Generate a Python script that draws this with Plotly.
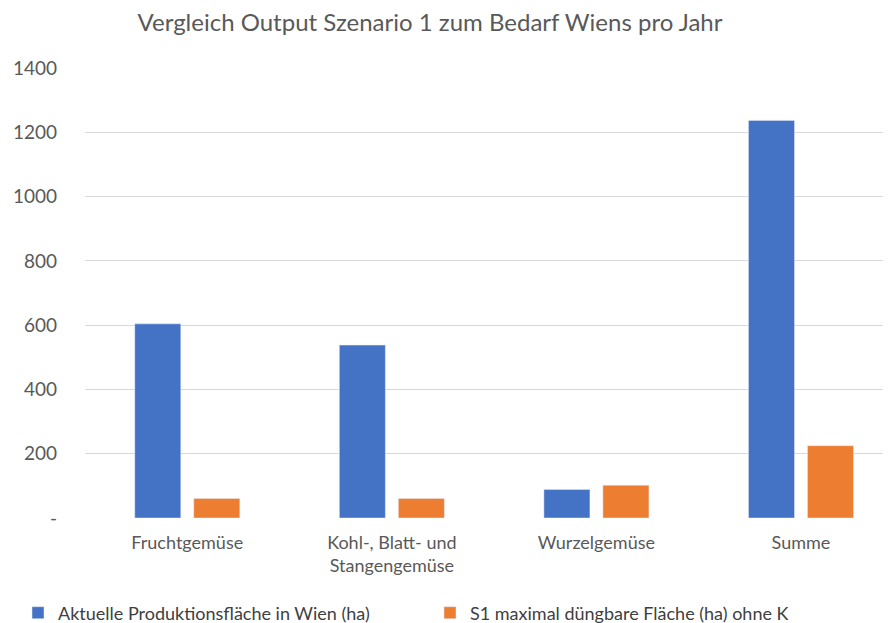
import plotly.graph_objects as go

categories = ["Fruchtgemüse", "Kohl-, Blatt- und Stangengemüse", "Wurzelgemüse", "Summe"]
category_labels = ["Fruchtgemüse", "Kohl-, Blatt- und<br>Stangengemüse", "Wurzelgemüse", "Summe"]
aktuelle_flaeche = [604, 538, 89, 1237]
s1_max_flaeche = [61, 61, 102, 225]
y_tickvals = [0, 200, 400, 600, 800, 1000, 1200, 1400]
y_ticktext = ["-", "200", "400", "600", "800", "1000", "1200", "1400"]

FONT = "Lato"
TXT = "#595959"

# page body adds an 8px offset; figure is sized to fill the rest of the window
W, H = 883, 615
ML, MR, MT, MB = 77, 0, 60, 105
PW = W - ML - MR
PH = H - MT - MB

fig = go.Figure()
fig.add_trace(go.Bar(x=categories, y=aktuelle_flaeche,
                     name="Aktuelle Produktionsfläche in Wien (ha)",
                     marker_color="#4472C4"))
fig.add_trace(go.Bar(x=categories, y=s1_max_flaeche,
                     name="S1 maximal düngbare Fläche (ha) ohne K",
                     marker_color="#ED7D31"))

fig.update_layout(
    width=W, height=H,
    margin=dict(l=ML, r=MR, t=MT, b=MB, autoexpand=False),
    paper_bgcolor="white", plot_bgcolor="white",
    barmode="group", bargap=0.423, bargroupgap=0.22,
    font=dict(family=FONT, color=TXT, size=18),
    title=dict(text="Vergleich Output Szenario 1 zum Bedarf Wiens pro Jahr",
               x=422/W, xanchor="center", y=1-15/H, yanchor="middle",
               font=dict(family=FONT, size=24, color=TXT)),
    xaxis=dict(range=[-0.5, 3.44], tickmode="array", tickvals=categories,
               ticktext=category_labels, showgrid=False, zeroline=False,
               showline=False, ticks="", ticklabelstandoff=12,
               tickfont=dict(size=18, color=TXT)),
    yaxis=dict(range=[0, 1400], tickmode="array", tickvals=y_tickvals,
               ticktext=y_ticktext, showgrid=True, gridcolor="#D9D9D9",
               gridwidth=1, zeroline=False, showline=False, ticks="",
               ticklabelstandoff=27, tickfont=dict(size=19, color=TXT)),
    legend=dict(orientation="h", xref="paper", yref="paper",
                x=(10-ML)/PW, xanchor="left", y=(MT+PH-605)/PH, yanchor="middle",
                entrywidth=367, entrywidthmode="pixels",
                font=dict(size=18, color="#404040"), itemclick=False),
    showlegend=True,
)

fig.write_html("out.html")
